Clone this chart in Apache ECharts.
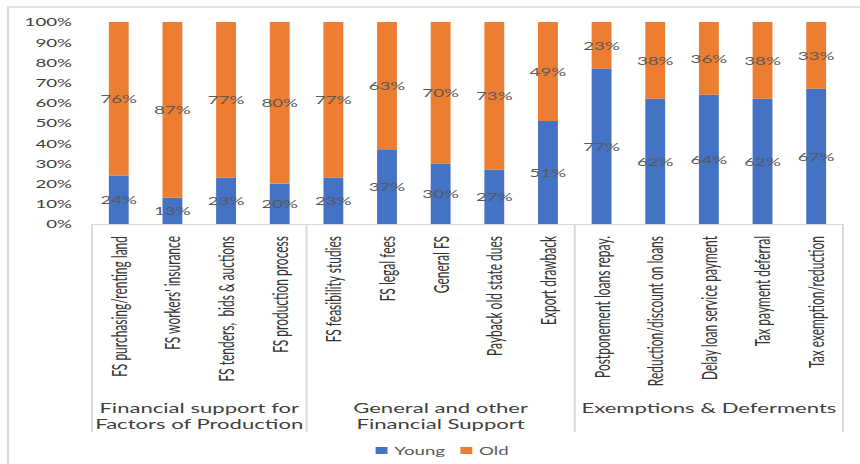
<!DOCTYPE html>
<html>
<head>
<meta charset="utf-8">
<script src="https://cdn.jsdelivr.net/npm/echarts@6/dist/echarts.min.js"></script>
<style>
  html, body { margin: 0; padding: 0; background: #fff; overflow: hidden; }
  /* the chart is laid out on a narrow canvas and widened horizontally */
  #chart { width: 506px; height: 464px; transform: scaleX(1.6996); transform-origin: 0 0; }
</style>
</head>
<body>
<div id="chart"></div>
<script>
// Support measures, shares by age group (%)
const categories = [
  'FS purchasing/renting land',
  "FS workers' insurance",
  'FS tenders,  bids & auctions',
  'FS production process',
  'FS feasibility studies',
  'FS legal fees',
  'General FS',
  'Payback old state dues',
  'Export drawback',
  'Postponement loans repay.',
  'Reduction/discount on loans',
  'Delay loan service payment',
  'Tax payment deferral',
  'Tax exemption/reduction'
];
const youngShare = [24, 13, 23, 20, 23, 37, 30, 27, 51, 77, 62, 64, 62, 67];
const oldShare   = [76, 87, 77, 80, 77, 63, 70, 73, 49, 23, 38, 36, 38, 33];

const groupNames = [
  'Financial support for\nFactors of Production',
  'General and other\nFinancial Support',
  'Exemptions & Deferments'
];
const groupSizes = [4, 5, 5];

const seriesNames = ['Young', 'Old'];
const seriesColors = ['#4472C4', '#ED7D31'];

const FONT = 'Lato, "Liberation Sans", sans-serif';

const chart = echarts.init(document.getElementById('chart'), null, { renderer: 'svg' });

const valueLabel = {
  show: true,
  position: 'inside',
  formatter: '{c}%',
  fontFamily: FONT,
  fontSize: 11,
  color: '#595959'
};

chart.setOption({
  backgroundColor: '#ffffff',
  animation: false,
  grid: { left: 54.1, right: 10, top: 22, bottom: 240, outerBoundsMode: 'none' },
  legend: {
    data: seriesNames,
    left: 216,
    top: 440,
    icon: 'rect',
    itemWidth: 7,
    itemHeight: 7,
    itemGap: 9,
    textStyle: { fontFamily: FONT, fontSize: 11, color: '#595959', padding: [0, 0, 0, -1] }
  },
  xAxis: {
    type: 'category',
    data: categories,
    axisTick: { show: false },
    axisLine: { show: true, lineStyle: { color: '#d9d9d9', width: 1.2 } },
    axisLabel: {
      interval: 0,
      rotate: 90,
      margin: 12,
      fontFamily: FONT,
      fontSize: 12,
      color: '#333333'
    }
  },
  yAxis: {
    type: 'value',
    min: 0,
    max: 100,
    interval: 10,
    axisLine: { show: false },
    axisTick: { show: false },
    splitLine: { show: false },
    axisLabel: {
      formatter: '{value}%',
      margin: 11.7,
      fontFamily: FONT,
      fontSize: 11,
      color: '#404040'
    }
  },
  series: [
    {
      name: seriesNames[0],
      type: 'bar',
      stack: 'share',
      barWidth: '37%',
      data: youngShare,
      itemStyle: { color: seriesColors[0] },
      label: valueLabel
    },
    {
      name: seriesNames[1],
      type: 'bar',
      stack: 'share',
      barWidth: '37%',
      data: oldShare,
      itemStyle: { color: seriesColors[1] },
      label: valueLabel
    }
  ]
});

// Group brackets under the category axis, placed from the axis scale
function drawGroups() {
  const x0 = chart.convertToPixel({ xAxisIndex: 0 }, 0);
  const x1 = chart.convertToPixel({ xAxisIndex: 0 }, 1);
  const band = x1 - x0;
  const axisY = chart.convertToPixel({ yAxisIndex: 0 }, 0);
  const elements = [
    {
      type: 'rect',
      silent: true,
      z: -10,
      shape: { x: 4.7, y: 7, width: 1000, height: 1000 },
      style: { fill: 'none', stroke: '#d9d9d9', lineWidth: 1.3 }
    }
  ];
  let start = 0;
  const edges = [start];
  groupSizes.forEach(function (n, g) {
    const left = x0 + (start - 0.5) * band;
    const right = x0 + (start + n - 0.5) * band;
    elements.push({
      type: 'text',
      silent: true,
      style: {
        x: (left + right) / 2,
        y: 400,
        text: groupNames[g],
        align: 'center',
        verticalAlign: 'top',
        lineHeight: 16,
        fontFamily: FONT,
        fontSize: 13,
        fill: '#404040'
      }
    });
    start += n;
    edges.push(start);
  });
  edges.forEach(function (e) {
    const x = x0 + (e - 0.5) * band;
    elements.push({
      type: 'line',
      silent: true,
      shape: { x1: x, y1: axisY, x2: x, y2: 432 },
      style: { stroke: '#d9d9d9', lineWidth: 1.2 }
    });
  });
  chart.setOption({ graphic: elements });
}
drawGroups();
</script>
</body>
</html>
